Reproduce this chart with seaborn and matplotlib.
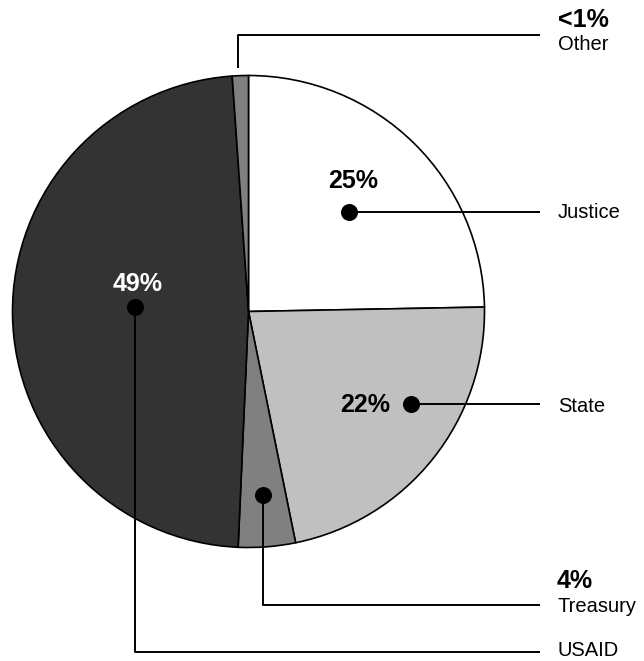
import matplotlib
matplotlib.use("Agg")
import matplotlib.pyplot as plt
import seaborn as sns
import pandas as pd

# slice data, clockwise from 12 o'clock
agencies = ["Justice", "State", "Treasury", "USAID", "Other"]
shares = [24.7, 22.1, 3.9, 48.2, 1.1]
share_labels = ["25%", "22%", "4%", "49%", "<1%"]
slice_colors = ["#ffffff", "#c0c0c0", "#808080", "#333333", "#808080"]

# callout layout in pixel coordinates (y grows downward)
leader_paths = {
    "Justice": [(349, 212), (540, 212)],
    "State": [(411, 404), (540, 404)],
    "Treasury": [(263, 495), (263, 605), (540, 605)],
    "USAID": [(135.5, 307), (135.5, 652), (540, 652)],
    "Other": [(238, 68), (238, 35), (540, 35)],
}
has_dot = {"Justice": True, "State": True, "Treasury": True, "USAID": True, "Other": False}
pct_pos = {
    "Justice": (353, 181, "center", "black"),
    "State": (365, 405, "center", "black"),
    "Treasury": (557, 581, "left", "black"),
    "USAID": (138, 284, "center", "white"),
    "Other": (558, 20, "left", "black"),
}
name_y = {"Justice": 212, "State": 407, "Treasury": 607, "USAID": 650, "Other": 45}

sns.set_theme(style="white")
plt.rcParams["font.family"] = ["Liberation Sans", "DejaVu Sans"]

fig = plt.figure(figsize=(6.44, 6.61), dpi=100)
ax = fig.add_axes([0, 0, 1, 1])

# y axis is inverted below, so start at -90 and go "counterclockwise" in data
# coords -> starts at top and runs clockwise on screen
ax.pie(
    shares,
    colors=slice_colors,
    center=(248.5, 311.5),
    radius=236,
    startangle=-90,
    counterclock=True,
    frame=True,
    wedgeprops=dict(edgecolor="black", linewidth=1.2),
)

for name in agencies:
    xs, ys = zip(*leader_paths[name])
    ax.plot(xs, ys, color="black", linewidth=1.4, solid_capstyle="butt", zorder=3)

dots = pd.DataFrame(
    [(n, *leader_paths[n][0]) for n in agencies if has_dot[n]],
    columns=["agency", "x", "y"],
)
sns.scatterplot(data=dots, x="x", y="y", s=150, color="black",
                edgecolor="black", linewidth=0, zorder=4, ax=ax, legend=False)
ax.set_xlim(0, 644)
ax.set_ylim(661, 0)
ax.set_aspect("equal")
ax.axis("off")

for name, lab in zip(agencies, share_labels):
    x, y, ha, col = pct_pos[name]
    ax.text(x, y, lab, ha=ha, va="center", fontsize=18, fontweight="bold",
            color=col, zorder=5)
    ax.text(558, name_y[name], name, ha="left", va="center", fontsize=14.5,
            color="black", zorder=5)

fig.savefig("out.png", dpi=100)
